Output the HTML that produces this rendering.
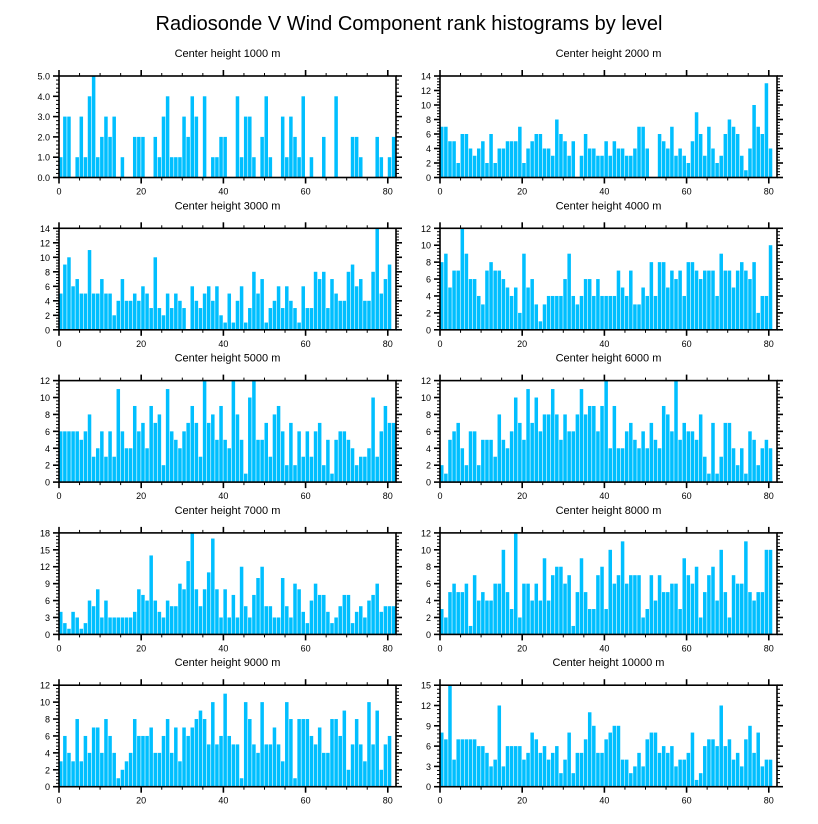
<!DOCTYPE html>
<html><head><meta charset="utf-8"><style>
html,body{margin:0;padding:0;background:#fff}
svg{display:block;font-family:"Liberation Sans",sans-serif}
</style></head><body>
<svg id="chart" width="818" height="824" viewBox="0 0 818 824">
<text x="409" y="30" text-anchor="middle" font-size="20">Radiosonde V Wind Component rank histograms by level</text>
</svg>
<script>
const levels = ["1000","2000","3000","4000","5000","6000","7000","8000","9000","10000"];
const yMaxes = [5,14,14,12,12,12,18,12,12,15];
const yStepsMajor = [1,2,2,2,2,2,3,2,2,3];
const xTicks = [0,20,40,60,80];
const v1000 = [1,3,3,0,1,3,1,4,5,1,2,3,2,3,0,1,0,0,2,2,2,0,0,2,1,3,4,1,1,1,3,2,4,3,0,4,0,1,1,2,2,0,0,4,1,3,3,1,0,2,4,1,0,0,3,1,3,2,1,4,0,1,0,0,2,0,0,4,0,0,0,2,2,1,0,0,0,2,1,0,1,2];
const v2000 = [7,7,5,5,2,6,6,4,3,4,5,2,6,2,4,4,5,5,5,7,2,4,5,6,6,4,4,3,8,6,5,3,5,0,3,6,4,4,3,3,5,3,5,4,4,3,3,4,7,7,4,0,0,6,5,4,7,3,4,3,2,5,9,6,3,7,4,2,3,6,8,7,6,3,1,4,10,7,6,13,4];
const v3000 = [5,9,10,6,7,5,5,11,5,5,7,5,5,2,4,7,4,4,5,4,6,5,3,10,3,2,5,3,5,4,3,0,6,4,3,5,6,4,6,2,1,5,1,4,6,1,3,8,5,7,1,3,4,6,3,6,4,3,1,6,3,3,8,7,8,3,7,5,4,4,8,9,6,7,4,4,8,14,5,7,9];
const v4000 = [8,9,5,7,7,12,9,6,6,4,3,7,8,7,7,6,5,4,5,2,9,5,6,3,1,3,4,4,4,4,6,9,4,3,4,6,6,4,6,4,4,4,4,7,5,4,7,3,3,5,4,8,4,8,8,5,7,6,7,4,8,8,7,6,7,7,7,4,9,7,7,5,7,8,7,6,8,2,4,4,10];
const v5000 = [6,6,6,6,6,5,6,8,3,4,6,3,6,3,11,6,4,4,9,6,7,4,9,7,8,2,11,6,5,4,6,7,9,7,3,12,7,8,5,9,5,4,12,8,5,1,10,12,5,5,7,3,8,9,6,2,7,2,6,3,6,3,6,7,2,5,1,5,6,6,5,4,2,3,3,4,10,3,6,9,7,7];
const v6000 = [2,1,5,6,7,4,2,6,6,2,5,5,5,3,8,5,4,6,10,7,5,11,7,10,6,8,8,11,8,5,8,6,6,8,11,8,9,9,6,9,12,4,9,4,4,6,7,5,4,6,4,7,5,4,9,8,6,12,5,7,6,6,5,8,3,1,7,1,3,7,7,4,2,4,1,6,5,2,4,5,4];
const v7000 = [4,2,1,4,3,1,2,6,5,8,3,6,3,3,3,3,3,3,4,8,7,6,14,6,4,3,6,5,5,9,8,13,18,8,5,8,11,17,8,3,8,3,7,3,12,5,3,7,10,12,5,5,3,3,10,5,3,9,8,4,2,6,9,7,7,4,2,3,5,7,7,2,4,5,3,6,7,9,4,5,5,5];
const v8000 = [3,2,5,6,5,5,6,1,7,4,5,4,4,6,6,10,5,3,12,2,6,6,4,6,4,9,4,7,8,8,6,7,1,5,9,5,3,3,7,8,3,10,6,7,11,6,7,7,7,2,3,7,4,7,5,5,6,6,3,9,7,6,8,2,5,7,8,4,10,5,2,7,6,6,11,5,4,5,5,10,10];
const v9000 = [3,6,4,3,8,3,6,4,7,7,4,8,6,4,1,2,3,4,8,6,6,6,7,4,4,6,8,4,7,3,7,6,7,8,9,8,5,10,5,6,11,6,5,5,1,10,8,5,4,10,5,5,7,5,3,10,8,1,8,8,8,6,5,7,4,4,8,8,6,9,2,5,8,5,3,10,5,9,2,5,6];
const v10000 = [8,7,15,4,7,7,7,7,7,6,6,5,3,4,12,3,6,6,6,6,4,5,8,7,5,6,4,5,6,2,4,8,2,5,5,7,11,9,5,5,7,8,9,9,4,4,2,3,5,3,7,8,8,5,6,5,6,3,4,4,5,8,1,2,6,7,7,6,12,6,7,4,5,3,7,9,5,8,3,4,4];
const seriesList = [v1000,v2000,v3000,v4000,v5000,v6000,v7000,v8000,v9000,v10000];

const NS = "http://www.w3.org/2000/svg";
const svg = document.getElementById('chart');
function mk(tag, attrs, parent){const e=document.createElementNS(NS,tag);for(const k in attrs)e.setAttribute(k,attrs[k]);parent.appendChild(e);return e;}
const XMAX = 82;
levels.forEach((lev, p) => {
  const col = p % 2, row = Math.floor(p/2);
  const L = col ? 440 : 59, R = col ? 777 : 396;
  const T = 76 + row*152.3, B = T + 101.5;
  const g = mk('g', {}, svg);
  
  
  const xs = v => L + (R-L)*v/XMAX;
  const ymax = yMaxes[p];
  const ys = v => B - (B-T)*v/ymax;
  const title = mk('text', {x:(L+R)/2, y:T-19, 'text-anchor':'middle', 'font-size':'11'}, g);
  title.textContent = 'Center height ' + lev + ' m';
  
  
  const vals = seriesList[p];
  vals.forEach((v, i) => {
    if (v <= 0) return;
    const x0 = xs(i), x1 = xs(i+1);
    const r = mk('rect', {x:x0, y:ys(v), width:Math.max(0,x1-x0-0.6), height:B-ys(v), fill:'#00bfff'}, g);
    
    
  });
  // x ticks (minor every 5, major every 20) bottom and top, outward
  for (let t=0; t<=XMAX; t+=5) {
    const major = t % 20 === 0, len = major ? 6 : 3;
    const x = xs(t);
    mk('line', {x1:x, x2:x, y1:B, y2:B+len, stroke:'#000', 'stroke-width':major?1.6:1}, g);
    mk('line', {x1:x, x2:x, y1:T, y2:T-len, stroke:'#000', 'stroke-width':major?1.6:1}, g);
  }
  xTicks.forEach(t => {
    const lbl = mk('text', {x:xs(t), y:B+17, 'text-anchor':'middle', 'font-size':'9'}, g);
    lbl.textContent = String(t);
    
    
  });
  // y ticks
  const step = yStepsMajor[p], minor = step/5;
  for (let k=0; k*minor <= ymax+1e-9; k++) {
    const v = k*minor, y = ys(v), major = k % 5 === 0, len = major ? 6 : 3;
    mk('line', {x1:L, x2:L-len, y1:y, y2:y, stroke:'#000', 'stroke-width':major?1.6:1}, g);
    mk('line', {x1:R, x2:R+len, y1:y, y2:y, stroke:'#000', 'stroke-width':major?1.6:1}, g);
  }
  for (let v=0; v<=ymax+1e-9; v+=step) {
    const lbl = mk('text', {x:L-9, y:ys(v)+3.5, 'text-anchor':'end', 'font-size':'9'}, g);
    lbl.textContent = p===0 ? v.toFixed(1) : String(v);
    
    
  }
  const fr = mk('rect', {x:L, y:T, width:R-L, height:B-T, fill:'none', stroke:'#000', 'stroke-width':1.6}, g);
  
  
});
</script>
</body></html>
